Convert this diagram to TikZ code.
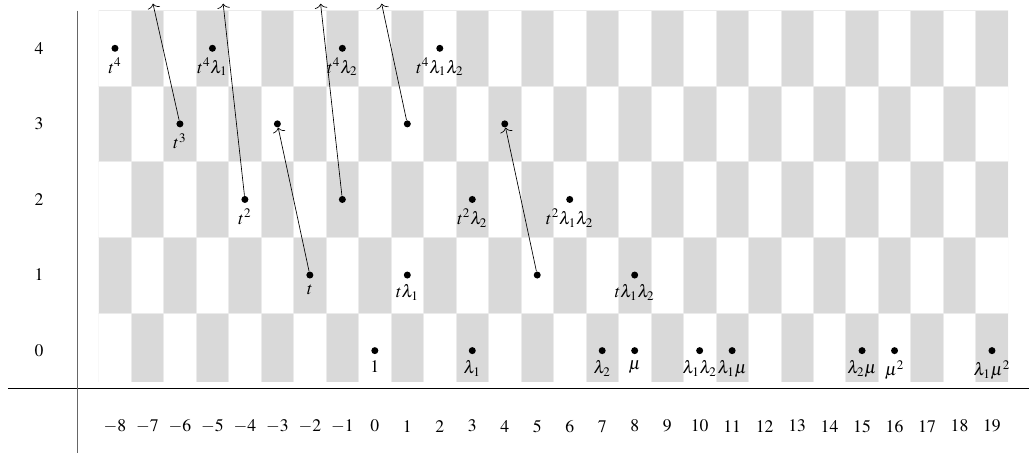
\documentclass[tikz,border=0pt]{standalone}
\usepackage{mathptmx}
\usetikzlibrary{arrows.meta}

\definecolor{cellgray}{HTML}{D9D9D9}
\definecolor{cellline}{HTML}{EBEBEB}

\begin{document}
\begin{tikzpicture}[x=0.6851cm,y=1.5942cm,>={To[length=2.8pt,width=7.5pt]},
  every node/.style={font=\fontsize{10.6}{12}\selectfont},
  dot/.style={circle,fill,inner sep=0pt,minimum size=4.2pt},
  cell/.style={draw=cellline,line width=0.4pt},
  axis/.style={line width=0.6pt},
  lab/.style={inner sep=2pt}]
\useasboundingbox (-11.54,-1.38) rectangle (20.14,4.639);
% checkerboard
\begin{scope}
\clip (-8.5,-0.41) rectangle (19.5,4.5);
\foreach \x in {-8,...,19}
  \foreach \y in {0,...,4}{
    \pgfmathtruncatemacro{\odd}{mod(\x+\y+20,2)}
    \ifnum\odd=1 \fill[cellgray] (\x-0.5,\y-0.5) rectangle (\x+0.5,\y+0.5);\fi
    \draw[cell] (\x-0.5,\y-0.5) rectangle (\x+0.5,\y+0.5);
  }
\end{scope}
% axes
\draw[axis] (-11.3,-0.5) -- (20.14,-0.5);
\draw[axis,black!60,line width=0.9pt] (-9.16,4.5) -- (-9.16,-1.353);
\foreach \y in {0,...,4}
  \node[lab] (r\y) at (-10.34,\y) {$\y$};
\foreach \x in {-8,...,19}
  \node[lab] (c\x) at (\x,-1) {$\x$};
% points
\node[dot,label=below:{$t^4$}] (t4) at (-8,4) {};
\node[dot,label=below:{$t^4\lambda_1$}] (t4l1) at (-5,4) {};
\node[dot,label=below:{$t^4\lambda_2$}] (t4l2) at (-1,4) {};
\node[dot,label=below:{$t^4\lambda_1\lambda_2$}] (t4l12) at (2,4) {};
\node[dot,label=below:{$t^3$}] (t3) at (-6,3) {};
\node[dot] (m3a) at (-3,3) {};
\node[dot] (m3b) at (1,3) {};
\node[dot] (m3c) at (4,3) {};
\node[dot,label=below:{$t^2$}] (t2) at (-4,2) {};
\node[dot] (m2) at (-1,2) {};
\node[dot,label=below:{$t^2\lambda_2$}] (t2l2) at (3,2) {};
\node[dot,label=below:{$t^2\lambda_1\lambda_2$}] (t2l12) at (6,2) {};
\node[dot,label=below:{$t$}] (t1) at (-2,1) {};
\node[dot,label=below:{$t\lambda_1$}] (t1l1) at (1,1) {};
\node[dot] (m1) at (5,1) {};
\node[dot,label=below:{$t\lambda_1\lambda_2$}] (t1l12) at (8,1) {};
\node[dot,label=below:{$1$}] (one) at (0,0) {};
\node[dot,label=below:{$\lambda_1$}] (l1) at (3,0) {};
\node[dot,label=below:{$\lambda_2$}] (l2) at (7,0) {};
\node[dot,label=below:{$\mu$}] (mu) at (8,0) {};
\node[dot,label=below:{$\lambda_1\lambda_2$}] (l12) at (10,0) {};
\node[dot,label=below:{$\lambda_1\mu$}] (l1mu) at (11,0) {};
\node[dot,label=below:{$\lambda_2\mu$}] (l2mu) at (15,0) {};
\node[dot,label=below:{$\mu^2$}] (mu2) at (16,0) {};
\node[dot,label=below:{$\lambda_1\mu^2$}] (l1mu2) at (19,0) {};
% arrows leaving the top
\coordinate (e1) at (-6.83,4.59);
\coordinate (e2) at (-4.67,4.59);
\coordinate (e3) at (-1.67,4.59);
\coordinate (e4) at (0.21,4.59);
\draw[->] (t3) -- (e1);
\draw[->] (t2) -- (e2);
\draw[->] (m2) -- (e3);
\draw[->] (m3b) -- (e4);
\draw[->] (t1) -- (m3a);
\draw[->] (m1) -- (m3c);
\end{tikzpicture}
\end{document}
